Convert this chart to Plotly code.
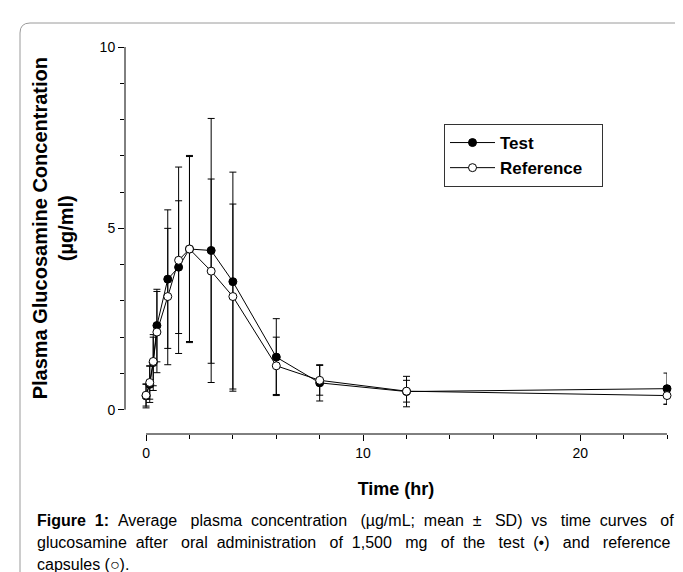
import plotly.graph_objects as go

# time points (hr)
times = [0, 0.17, 0.33, 0.5, 1, 1.5, 2, 3, 4, 6, 8, 12, 24]

# test capsules, mean and SD (ug/mL)
test_mean = [0.38, 0.70, 1.30, 2.32, 3.60, 3.93, 4.43, 4.39, 3.53, 1.45, 0.74, 0.50, 0.58]
test_sd = [0.33, 0.50, 0.77, 1.00, 1.91, 1.83, 2.55, 3.64, 3.02, 1.06, 0.50, 0.42, 0.43]

# reference capsules, mean and SD (ug/mL)
ref_mean = [0.40, 0.75, 1.33, 2.14, 3.12, 4.12, 4.43, 3.82, 3.12, 1.21, 0.81, 0.51, 0.39]
ref_sd = [0.30, 0.46, 0.67, 1.12, 1.88, 2.57, 2.58, 2.54, 2.55, 0.79, 0.41, 0.30, 0.24]

x_ticks = [0, 10, 20]
y_ticks = [0, 5, 10]

caption_lines = [
    "<b>Figure 1:</b> Average plasma concentration (µg/mL; mean ± SD) vs time curves of",
    "glucosamine after oral administration of 1,500 mg of the test (•) and reference",
    "capsules (○).",
]

W, H = 683, 572
L, R, T, B = 117, 24, 39, 146
pw, ph = W - L - R, H - T - B

def px(x):
    return (x - L) / pw

def py(y):
    return (H - B - y) / ph

def justify(line, extra):
    # spread extra no-break spaces over the word gaps (the caption is justified)
    words = line.split(" ")
    gaps = len(words) - 1
    out = words[0]
    for i, w in enumerate(words[1:]):
        n = extra * (i + 1) // gaps - extra * i // gaps
        out += " " + "\u00a0" * n + w
    return out

FONT = "Liberation Sans, Arial, sans-serif"
PAD = "\u00a0\u00a0\u00a0"

err_style = dict(type="data", thickness=1, width=3.5, color="black")

test_trace = go.Scatter(
    x=times, y=test_mean, name="Test",
    mode="lines+markers",
    line=dict(color="black", width=1),
    marker=dict(symbol="circle", size=8, color="black", line=dict(color="black", width=1)),
    error_y=dict(array=test_sd, **err_style),
    cliponaxis=False)

ref_trace = go.Scatter(
    x=times, y=ref_mean, name="Reference" + PAD,
    mode="lines+markers",
    line=dict(color="black", width=1),
    marker=dict(symbol="circle", size=8, color="white", line=dict(color="black", width=1)),
    error_y=dict(array=ref_sd, **err_style),
    cliponaxis=False)

fig = go.Figure(data=[test_trace, ref_trace])

# gray rounded page frame
fx0, fy0 = px(12), py(15)
fx1, fy1 = px(720), py(620)
rx, ry = 10 / pw, 10 / ph
frame = (f"M {fx1},{fy0} L {fx0 + rx},{fy0} Q {fx0},{fy0} {fx0},{fy0 - ry} "
         f"L {fx0},{fy1}")

cap_y = [512, 534, 556]
cap_extra = [17, 19, 0]
captions = [
    dict(text=justify(t, e), xref="paper", yref="paper", x=px(27), y=py(yy),
         xanchor="left", yanchor="middle", showarrow=False, font=dict(size=16))
    for t, e, yy in zip(caption_lines, cap_extra, cap_y)
]

fig.update_layout(
    width=W, height=H,
    margin=dict(l=L, r=R, t=T, b=B),
    paper_bgcolor="white", plot_bgcolor="white",
    font=dict(family=FONT, color="black", size=14),
    showlegend=True,
    legend=dict(
        x=px(436), y=py(116), xanchor="left", yanchor="top",
        bordercolor="#333", borderwidth=1, bgcolor="white",
        font=dict(size=17, family=FONT, weight="bold"),
        itemwidth=45, tracegroupgap=0),
    xaxis=dict(
        range=[-0.97, 24], showgrid=False, zeroline=False, showline=False,
        tickvals=x_ticks, ticks="outside", ticklen=6, tickcolor="black", tickwidth=1,
        tickfont=dict(size=14),
        minor=dict(dtick=2, tick0=0, ticks="outside", ticklen=4, tickcolor="black"),
        title=dict(text="<b>Time (hr)</b>", font=dict(size=18), standoff=22)),
    yaxis=dict(
        range=[-0.67, 10], showgrid=False, zeroline=False, showline=False,
        tickvals=y_ticks, ticks="outside", ticklen=6, tickcolor="black", tickwidth=1,
        tickfont=dict(size=14),
        minor=dict(dtick=1, tick0=0, ticks="outside", ticklen=4, tickcolor="black")),
    shapes=[
        dict(type="line", xref="paper", yref="y", x0=0, x1=0, y0=0, y1=10,
             line=dict(color="black", width=1)),
        dict(type="line", xref="x", yref="paper", x0=0, x1=24, y0=0, y1=0,
             line=dict(color="black", width=1)),
        dict(type="path", xref="paper", yref="paper", path=frame,
             line=dict(color="#9a9a9a", width=1), layer="below"),
    ],
    annotations=[
        dict(text="<b>Plasma Glucosamine Concentration<br>(µg/ml)</b>",
             xref="paper", yref="y", x=px(45), y=5, textangle=-90,
             xanchor="center", yanchor="middle", showarrow=False,
             font=dict(size=20)),
    ] + captions,
)

fig.write_html("out.html")
